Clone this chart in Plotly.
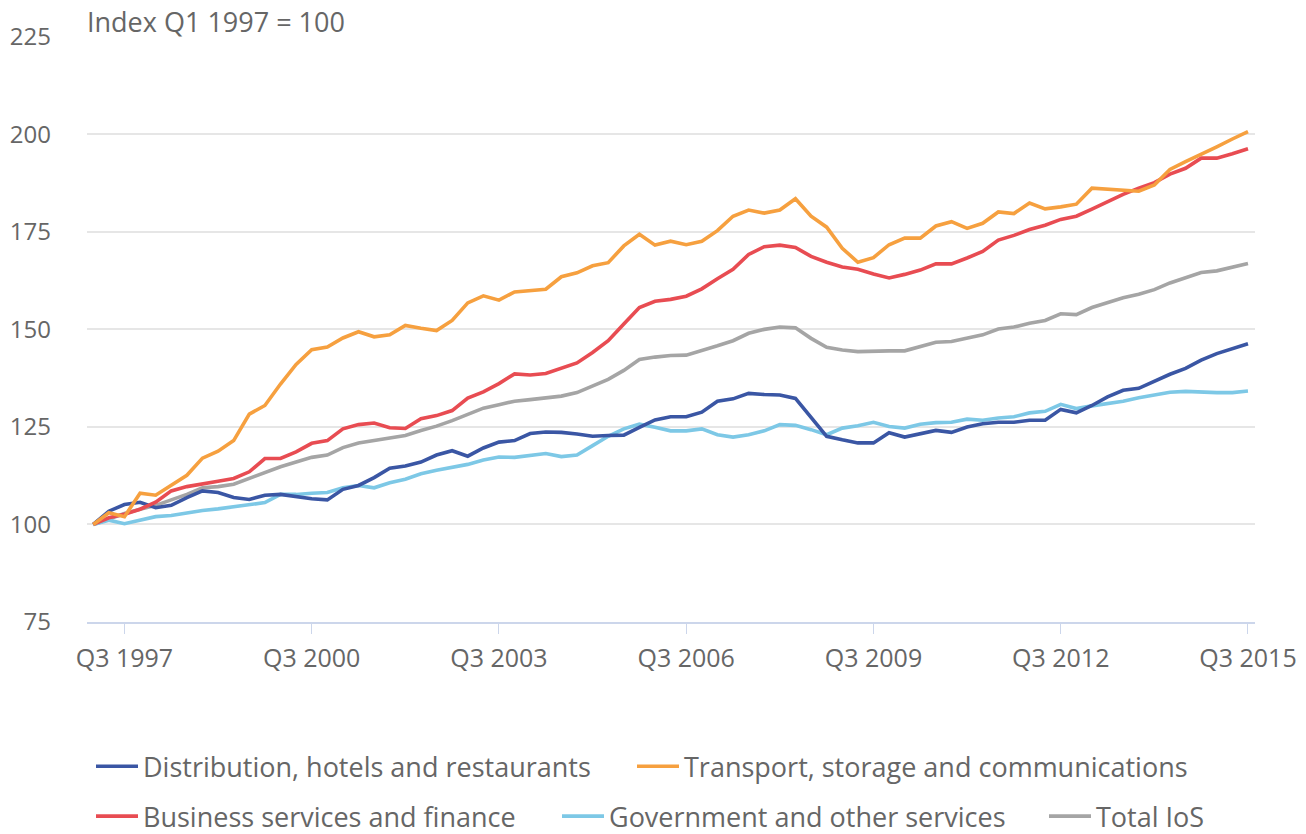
import plotly.graph_objects as go

# Quarter labels, Q1 1997 .. Q3 2015
quarters = []
for yr in range(1997, 2016):
    for q in range(1, 5):
        quarters.append(f"Q{q} {yr}")
quarters = quarters[:75]

distribution = [100, 103.4, 105.1, 105.7, 104.3, 104.9, 106.9, 108.6, 108.2, 106.9,
                106.4, 107.5, 107.7, 107.1, 106.6, 106.3, 109.0, 110.0, 112.0, 114.4,
                115.0, 116.0, 117.8, 118.9, 117.5, 119.6, 121.1, 121.5, 123.3, 123.7,
                123.6, 123.2, 122.6, 122.8, 122.9, 124.9, 126.8, 127.6, 127.6, 128.8,
                131.6, 132.2, 133.6, 133.3, 133.2, 132.3, 127.3, 122.6, 121.7, 120.9,
                120.9, 123.5, 122.4, 123.3, 124.1, 123.6, 125.0, 125.8, 126.2, 126.2,
                126.7, 126.7, 129.5, 128.6, 130.5, 132.7, 134.4, 134.9, 136.8, 138.5,
                140.0, 142.1, 143.8, 145.1, 146.3]

transport = [100, 103.0, 102.0, 108.0, 107.5, 110.0, 112.6, 117.0, 118.8, 121.5,
             128.3, 130.5, 136.0, 141.0, 144.8, 145.5, 147.8, 149.4, 148.1, 148.6,
             151.0, 150.3, 149.7, 152.3, 156.8, 158.6, 157.5, 159.6, 160.0, 160.3,
             163.5, 164.5, 166.3, 167.1, 171.4, 174.4, 171.6, 172.6, 171.7, 172.6,
             175.3, 179.0, 180.6, 179.8, 180.6, 183.5, 179.0, 176.2, 170.8, 167.2,
             168.4, 171.7, 173.4, 173.4, 176.5, 177.6, 175.9, 177.2, 180.1, 179.7,
             182.4, 180.9, 181.4, 182.1, 186.2, 185.9, 185.6, 185.4, 187.0, 191.0,
             193.0, 194.8, 196.8, 198.8, 200.7]

business = [100, 101.7, 102.6, 103.9, 105.7, 108.6, 109.7, 110.5, 111.1, 111.8,
            113.5, 116.9, 116.9, 118.6, 120.8, 121.5, 124.5, 125.6, 126.0, 124.8,
            124.6, 127.1, 127.9, 129.2, 132.4, 134.0, 136.1, 138.6, 138.3, 138.7,
            140.0, 141.4, 144.1, 147.1, 151.4, 155.6, 157.2, 157.7, 158.5, 160.4,
            163.0, 165.4, 169.2, 171.2, 171.6, 171.0, 168.7, 167.2, 166.0, 165.4,
            164.2, 163.2, 164.1, 165.2, 166.8, 166.8, 168.3, 170.0, 172.9, 174.1,
            175.6, 176.7, 178.2, 179.0, 180.8, 182.8, 184.6, 186.2, 187.6, 189.8,
            191.3, 193.9, 193.9, 195.0, 196.3]

government = [100, 101.1, 100.2, 101.1, 102.0, 102.3, 103.0, 103.6, 104.0, 104.6,
              105.0, 105.6, 107.7, 107.7, 108.0, 108.2, 109.4, 110.0, 109.4, 110.7,
              111.6, 113.0, 113.9, 114.6, 115.4, 116.5, 117.3, 117.2, 117.6, 118.2,
              117.4, 117.8, 120.2, 122.6, 124.5, 125.7, 124.9, 124.0, 124.0, 124.5,
              123.0, 122.4, 123.0, 124.0, 125.6, 125.4, 124.3, 123.0, 124.7, 125.3,
              126.2, 125.1, 124.7, 125.7, 126.1, 126.2, 127.0, 126.7, 127.3, 127.6,
              128.6, 129.0, 130.8, 129.7, 130.4, 131.0, 131.6, 132.5, 133.3, 133.9,
              134.1, 133.9, 133.8, 133.8, 134.2]

total = [100, 101.5, 102.8, 103.9, 104.9, 106.3, 107.7, 109.4, 109.7, 110.3,
         111.8, 113.5, 114.8, 116.0, 117.2, 117.8, 119.7, 120.9, 121.5, 122.1,
         122.8, 124.1, 125.2, 126.6, 128.3, 129.8, 130.7, 131.6, 132.0, 132.5,
         132.9, 133.8, 135.5, 137.2, 139.5, 142.3, 142.9, 143.3, 143.4, 144.5,
         145.8, 147.1, 149.0, 150.0, 150.6, 150.4, 147.7, 145.4, 144.7, 144.3,
         144.5, 144.5, 144.5, 145.6, 146.7, 146.9, 147.7, 148.6, 150.1, 150.6,
         151.6, 152.3, 154.0, 153.8, 155.6, 156.9, 158.1, 159.0, 160.2, 161.9,
         163.2, 164.6, 165.0, 165.9, 166.9]

tick_labels = ["Q3 1997", "Q3 2000", "Q3 2003", "Q3 2006", "Q3 2009", "Q3 2012", "Q3 2015"]

series = [
    ("Distribution, hotels and restaurants", distribution, "#3a56a4", "legend"),
    ("Transport, storage and communications", transport, "#f6a03f", "legend2"),
    ("Business services and finance", business, "#e84c52", "legend3"),
    ("Government and other services", government, "#7dc8e6", "legend4"),
    ("Total IoS", total, "#a5a5a5", "legend5"),
]

# draw order: total/government behind
order = [4, 3, 0, 2, 1]

fig = go.Figure()
for k in order:
    name, vals, col, leg = series[k]
    fig.add_trace(go.Scatter(x=quarters, y=vals, name=name, mode="lines",
                             line=dict(color=col, width=3.6), legend=leg))

grey = "#666666"
legfont = dict(family="Open Sans", size=27, color=grey)

# plot area in pixels
L, T, B = 87, 36, 622.3
W, H = 1306 - 51 - L, B - T
def lx(px):
    return (px - L) / W
def ly(py):
    return (B - py) / H

leg_pos = {"legend": (91, 767), "legend2": (632, 767),
           "legend3": (91, 817), "legend4": (557, 817), "legend5": (1044, 817)}
leg_layout = {}
for key, (px, py) in leg_pos.items():
    leg_layout[key] = dict(x=lx(px), y=ly(py), xanchor="left", yanchor="middle",
                           orientation="h", font=legfont, itemwidth=42,
                           bgcolor="rgba(0,0,0,0)")

fig.update_layout(
    width=1306, height=834,
    margin=dict(l=L, r=51, t=T, b=834 - B, autoexpand=False),
    paper_bgcolor="white", plot_bgcolor="white",
    font=dict(family="Open Sans", color=grey),
    showlegend=True,
    **leg_layout,
)

fig.update_xaxes(
    type="category", range=[-0.4, 74.45],
    tickmode="array", tickvals=tick_labels, ticktext=tick_labels,
    ticks="outside", ticklen=10, tickwidth=1, tickcolor="#ccd6eb",
    showline=True, linecolor="#ccd6eb", linewidth=2,
    showgrid=False, ticklabelstandoff=3,
    tickfont=dict(family="Open Sans", size=25, color=grey),
)
fig.update_yaxes(
    range=[75, 225.2], tickvals=[75, 100, 125, 150, 175, 200, 225],
    showgrid=True, gridcolor="#e6e6e6", gridwidth=2,
    zeroline=False, showline=False, ticks="", automargin=False,
    ticklabelstandoff=35,
    tickfont=dict(family="Open Sans", size=24, color=grey),
)

fig.add_annotation(text="Index Q1 1997 = 100", xref="paper", yref="paper",
                   x=0, y=1, xanchor="left", yanchor="middle", showarrow=False,
                   yshift=15, xshift=-2,
                   font=dict(family="Open Sans", size=27, color=grey))

# drop the page's default body margin so the chart sits at the top-left corner
fig.write_html("out.html", config={"displayModeBar": False},
               post_script="document.body.style.margin='0';")
